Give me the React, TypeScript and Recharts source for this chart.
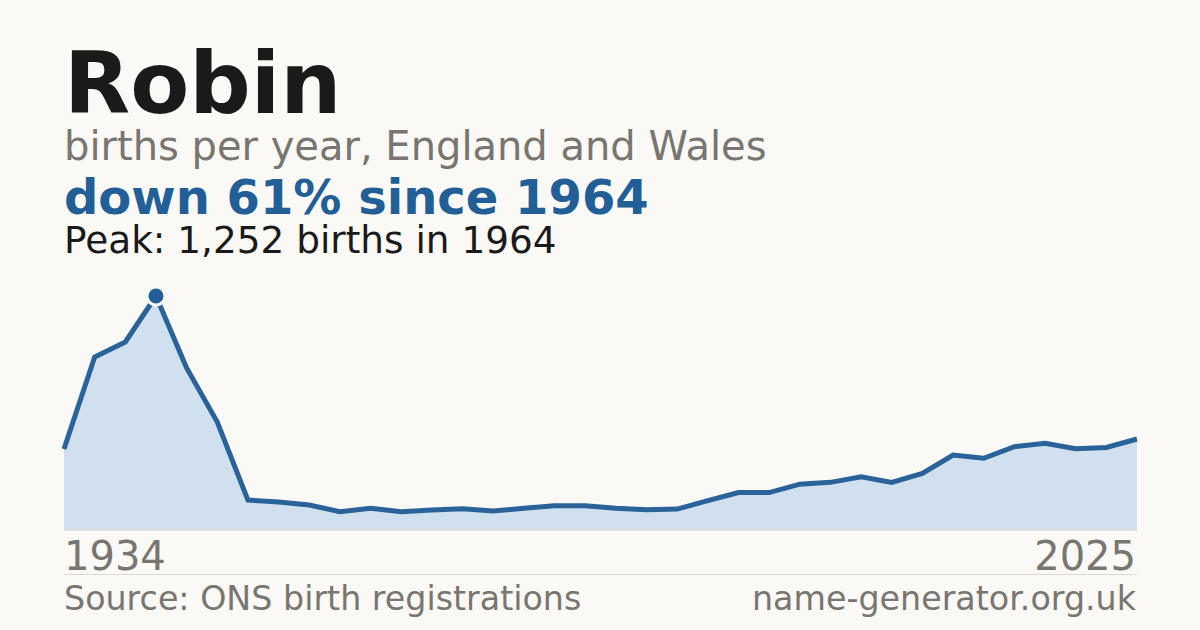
import React from "react";
import { AreaChart, Area, XAxis, YAxis, ReferenceDot, ReferenceLine } from "recharts";

const years: number[] = [
  1934, 1944, 1954, 1964, 1974, 1984,
  1996, 1997, 1998, 1999, 2000, 2001, 2002, 2003, 2004, 2005, 2006, 2007, 2008, 2009,
  2010, 2011, 2012, 2013, 2014, 2015, 2016, 2017, 2018, 2019, 2020, 2021, 2022, 2023, 2024, 2025,
];
const births: number[] = [
  433, 926, 1006, 1252, 867, 578,
  160, 150, 134, 98, 116, 98, 107, 114, 102, 116, 130, 130, 116, 109,
  112, 157, 200, 200, 245, 255, 285, 255, 303, 401, 384, 446, 464, 435, 442, 487,
];
const peakYear = 1964;
const peakValue = 1252;
const firstLabel = "1934";
const lastLabel = "2025";

const data = years.map((y, i) => ({ year: y, births: births[i] }));

const BG = "#faf9f5";
const BLUE = "#215f96";
const GRAY = "#797570";
const FONT = "'DejaVu Sans', sans-serif";

export default function App() {
  return (
    <div style={{ position: "fixed", left: 0, top: 0, width: 1200, height: 630, background: BG, fontFamily: FONT }}>
      <div style={{ position: "absolute", left: 0, top: 0 }}>
        <AreaChart width={1200} height={630} data={data} margin={{ top: 296, right: 63, bottom: 100, left: 64 }}>
          <XAxis dataKey="year" type="category" hide />
          <YAxis type="number" domain={[0, peakValue]} hide />
          <ReferenceLine y={0} stroke="#dcdad4" strokeWidth={1.5} />
          <Area
            type="linear"
            dataKey="births"
            stroke="#2a6399"
            strokeWidth={5}
            fill="#d0e0ef"
            fillOpacity={1}
            dot={false}
            activeDot={false}
            isAnimationActive={false}
          />
          <ReferenceDot x={peakYear} y={peakValue} r={9} fill={BLUE} stroke={BG} strokeWidth={3} ifOverflow="visible" />
        </AreaChart>
      </div>
      <svg width={1200} height={630} style={{ position: "absolute", left: 0, top: 0, pointerEvents: "none" }}>
        <text x={64} y={113} fontFamily={FONT} fontWeight="bold" fontSize={86} fill="#1a1a1a">Robin</text>
        <text x={64} y={160} fontFamily={FONT} fontSize={40} fill={GRAY}>births per year, England and Wales</text>
        <text x={64} y={214} fontFamily={FONT} fontWeight="bold" fontSize={48} fill={BLUE}>down 61% since 1964</text>
        <text x={64} y={253} fontFamily={FONT} fontSize={37.4} fill="#1a1a1a">Peak: 1,252 births in 1964</text>
        <text x={64} y={570} fontFamily={FONT} fontSize={40} fill={GRAY}>{firstLabel}</text>
        <text x={1136} y={570} fontFamily={FONT} fontSize={40} fill={GRAY} textAnchor="end">{lastLabel}</text>
        <line x1={64} x2={1137} y1={574.5} y2={574.5} stroke="#dcdad4" strokeWidth={1} />
        <text x={64} y={610} fontFamily={FONT} fontSize={33.3} fill={GRAY}>Source: ONS birth registrations</text>
        <text x={1136} y={610} fontFamily={FONT} fontSize={33.3} fill={GRAY} textAnchor="end">name-generator.org.uk</text>
      </svg>
    </div>
  );
}
